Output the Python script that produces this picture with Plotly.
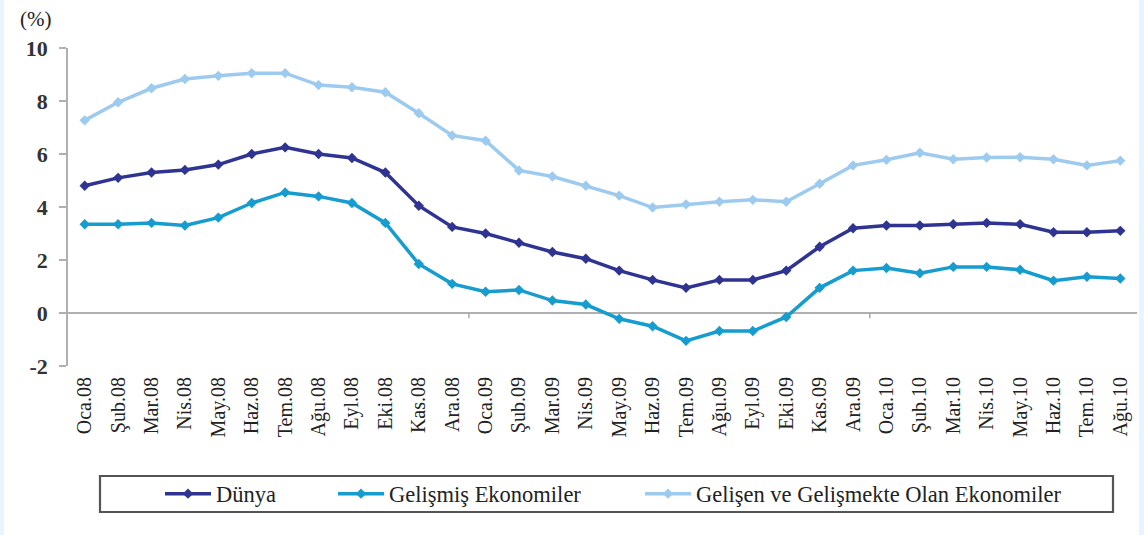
import plotly.graph_objects as go

months = ["Oca.08", "Şub.08", "Mar.08", "Nis.08", "May.08", "Haz.08", "Tem.08", "Ağu.08",
          "Eyl.08", "Eki.08", "Kas.08", "Ara.08", "Oca.09", "Şub.09", "Mar.09", "Nis.09",
          "May.09", "Haz.09", "Tem.09", "Ağu.09", "Eyl.09", "Eki.09", "Kas.09", "Ara.09",
          "Oca.10", "Şub.10", "Mar.10", "Nis.10", "May.10", "Haz.10", "Tem.10", "Ağu.10"]

dunya = [4.8, 5.1, 5.3, 5.4, 5.6, 6.0, 6.25, 6.0, 5.85, 5.3, 4.05, 3.25,
         3.0, 2.65, 2.3, 2.05, 1.6, 1.25, 0.95, 1.25, 1.25, 1.6, 2.5, 3.2,
         3.3, 3.3, 3.35, 3.4, 3.35, 3.05, 3.05, 3.1]

gelismis = [3.35, 3.35, 3.4, 3.3, 3.6, 4.15, 4.55, 4.4, 4.15, 3.4, 1.85, 1.1,
            0.8, 0.87, 0.47, 0.32, -0.22, -0.5, -1.05, -0.68, -0.68, -0.15, 0.95, 1.6,
            1.7, 1.5, 1.74, 1.74, 1.63, 1.22, 1.37, 1.3]

gelisen = [7.27, 7.95, 8.48, 8.83, 8.95, 9.05, 9.05, 8.6, 8.52, 8.33, 7.54, 6.7,
           6.5, 5.38, 5.15, 4.8, 4.43, 3.98, 4.1, 4.2, 4.27, 4.2, 4.88, 5.57,
           5.78, 6.05, 5.8, 5.87, 5.88, 5.8, 5.57, 5.75]

series_names = ["Dünya", "Gelişmiş Ekonomiler", "Gelişen ve Gelişmekte Olan Ekonomiler"]
colors = ["#2f3493", "#169ccf", "#9dcbef"]

y_ticks = [-2, 0, 2, 4, 6, 8, 10]

FONT = "Liberation Serif"
W, H = 1144, 535
ML, MR, MT, MB = 68, 7, 48, 169
PW = W - ML - MR
PH = H - MT - MB

def px_x(p):
    return (p - ML) / PW

def px_y(p):
    return (H - MB - p) / PH

legend_ids = ["legend", "legend2", "legend3"]
legend_left_px = [160, 333, 640]

fig = go.Figure()
for name, vals, col, lid in zip(series_names, [dunya, gelismis, gelisen], colors, legend_ids):
    fig.add_trace(go.Scatter(
        x=list(range(len(months))), y=vals, name=name, mode="lines+markers",
        line=dict(color=col, width=3.5),
        marker=dict(symbol="diamond", size=8, color=col),
        legend=lid,
    ))

shapes = [
    # white page area (light blue strips at edges)
    dict(type="rect", xref="paper", yref="paper", x0=px_x(4), x1=px_x(1139),
         y0=px_y(H + 5), y1=px_y(-5), fillcolor="white", line=dict(width=0), layer="below"),
    # legend frame
    dict(type="rect", xref="paper", yref="paper", x0=px_x(100), x1=px_x(1113),
         y0=px_y(512), y1=px_y(476), line=dict(color="#555555", width=2.2),
         fillcolor="rgba(0,0,0,0)"),
]
# year-boundary ticks on the zero line
for xb in [11.5, 23.5]:
    shapes.append(dict(type="line", xref="x", yref="y", x0=xb, x1=xb, y0=0, y1=-0.2,
                       line=dict(color="#aaaaaa", width=1.5)))

legend_style = dict(orientation="h", xanchor="left", y=px_y(494), yanchor="middle",
                    font=dict(family=FONT, size=22.5, color="#222222"),
                    bgcolor="rgba(0,0,0,0)", itemwidth=46)

fig.update_layout(
    width=W, height=H,
    margin=dict(l=ML, r=MR, t=MT, b=MB),
    paper_bgcolor="#eaf4fc",
    plot_bgcolor="white",
    font=dict(family=FONT, color="#222222"),
    showlegend=True,
    legend=dict(x=px_x(legend_left_px[0]), **legend_style),
    legend2=dict(x=px_x(legend_left_px[1]), **legend_style),
    legend3=dict(x=px_x(legend_left_px[2]), **legend_style),
    shapes=shapes,
    annotations=[dict(text="(%)", xref="paper", yref="paper", x=px_x(35), y=px_y(19),
                      xanchor="center", yanchor="middle",
                      showarrow=False, font=dict(family=FONT, size=21, color="#222222"))],
)

fig.update_xaxes(
    range=[-0.5, len(months) - 0.5],
    tickmode="array", tickvals=list(range(len(months))), ticktext=months,
    tickangle=-90, tickfont=dict(family=FONT, size=20, color="#222222"),
    showgrid=False, showline=False, ticks="", zeroline=False, ticklabelstandoff=6,
)
fig.update_yaxes(
    range=[-2, 10], tickvals=y_ticks,
    ticktext=[f"<b>{v}</b>" for v in y_ticks],
    tickfont=dict(family=FONT, size=22, color="#333333"),
    showgrid=False, showline=True, linecolor="#b0b0b0", linewidth=1.5,
    ticks="outside", ticklen=7, tickcolor="#b0b0b0", tickwidth=1.5,
    zeroline=True, zerolinecolor="#b0b0b0", zerolinewidth=1.5, ticklabelstandoff=7,
)

fig.write_html("out.html", config={"displayModeBar": False},
               post_script="document.body.style.margin='0';document.body.style.background='#eaf4fc';")
